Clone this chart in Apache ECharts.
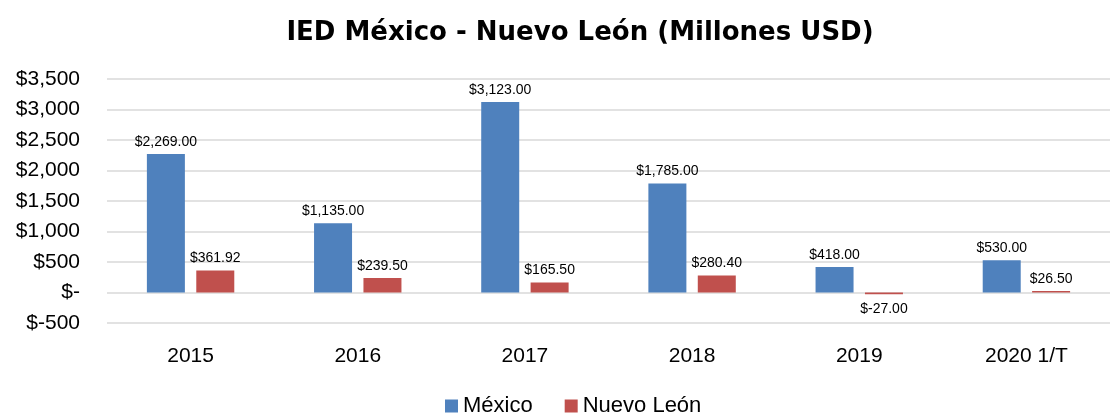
<!DOCTYPE html>
<html>
<head>
<meta charset="utf-8">
<script src="https://cdn.jsdelivr.net/npm/echarts@6/dist/echarts.min.js"></script>
<style>html,body{margin:0;padding:0;background:#fff}#c{width:1117px;height:415px}</style>
</head>
<body>
<div id="c"></div>
<script>
const categories = ['2015', '2016', '2017', '2018', '2019', '2020 1/T'];
const mexico = [2269, 1135, 3123, 1785, 418, 530];
const nuevoLeon = [361.92, 239.5, 165.5, 280.4, -27, 26.5];
const seriesNames = ['México', 'Nuevo León'];

function fmtAxis(v) {
  if (v === 0) return '$-';
  if (v < 0) return '$-' + Math.abs(v).toLocaleString('en-US');
  return '$' + v.toLocaleString('en-US');
}
function fmtLabel(v) {
  const s = Math.abs(v).toLocaleString('en-US', {minimumFractionDigits: 2, maximumFractionDigits: 2});
  return v < 0 ? '$-' + s : '$' + s;
}

const font = 'Liberation Sans, Arial, sans-serif';
const chart = echarts.init(document.getElementById('c'), null, {renderer: 'canvas'});
const labelCfg = {show: true, position: 'top', distance: 5, fontSize: 14, color: '#000', fontFamily: font,
  formatter: p => fmtLabel(p.value)};

chart.setOption({
  animation: false,
  title: {
    text: 'IED México - Nuevo León (Millones USD)',
    left: 575, textAlign: 'center', top: 15,
    textStyle: {fontFamily: 'DejaVu Sans', fontWeight: 'bold', fontSize: 26, color: '#000'}
  },
  legend: {
    data: seriesNames, top: 390, left: 440,
    itemWidth: 13, itemHeight: 13, itemGap: 32, icon: 'rect',
    textStyle: {fontFamily: font, fontSize: 22, color: '#000'}
  },
  grid: {left: 107, right: 7, top: 79, bottom: 92},
  xAxis: {
    type: 'category', data: categories,
    axisLine: {show: false}, axisTick: {show: false},
    axisLabel: {fontFamily: font, fontSize: 21, color: '#000', margin: 23}
  },
  yAxis: {
    type: 'value', min: -500, max: 3500, interval: 500,
    axisLine: {show: false}, axisTick: {show: false},
    splitLine: {lineStyle: {color: '#d9d9d9', width: 1.5}},
    axisLabel: {fontFamily: font, fontSize: 21, color: '#000', margin: 27, formatter: fmtAxis}
  },
  series: [
    {name: seriesNames[0], type: 'bar', data: mexico, barWidth: 38, barGap: '30%',
     itemStyle: {color: '#4F81BD'}, label: labelCfg},
    {name: seriesNames[1], type: 'bar', data: nuevoLeon.map(v => v < 0 ? {value: v, label: {position: 'bottom', distance: 8}} : v),
     barWidth: 38, itemStyle: {color: '#C0504D'}, label: labelCfg}
  ]
});
</script>
</body>
</html>
